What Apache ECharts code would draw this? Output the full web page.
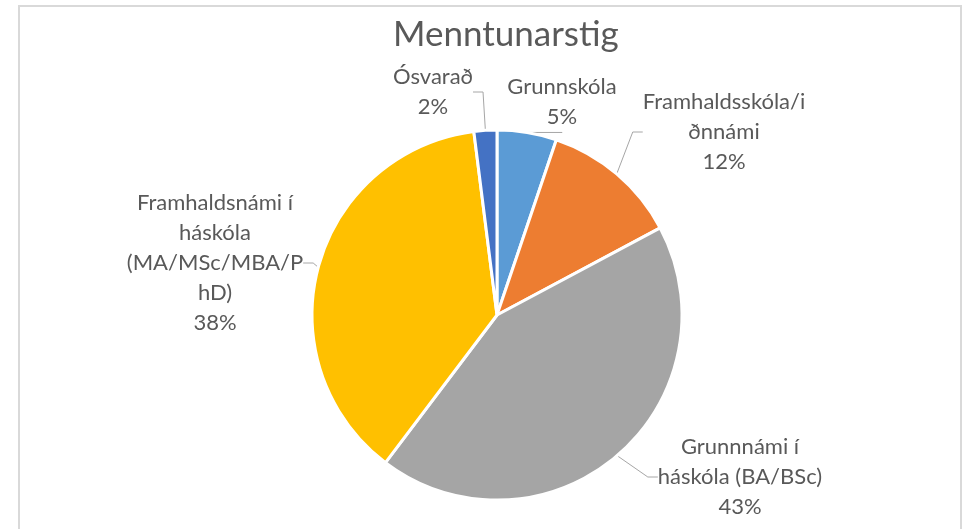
<!DOCTYPE html>
<html>
<head>
<meta charset="utf-8">
<script src="https://cdn.jsdelivr.net/npm/echarts@6/dist/echarts.min.js"></script>
<style>
  html, body { margin: 0; padding: 0; background: #fff; }
  #main { width: 968px; height: 529px; }
</style>
</head>
<body>
<div id="main"></div>
<script>
// flokkar og hlutföll (%)
var categories = ['Grunnskóla', 'Framhaldsskóla/iðnnámi', 'Grunnnámi í háskóla (BA/BSc)', 'Framhaldsnámi í háskóla (MA/MSc/MBA/PhD)', 'Ósvarað'];
var values = [5.2, 12.0, 43.1, 37.7, 2.0];
// texti eins og Excel brýtur hann
var labelTexts = ['Grunnskóla', 'Framhaldsskóla/i\nðnnámi', 'Grunnnámi í\nháskóla (BA/BSc)', 'Framhaldsnámi í\nháskóla\n(MA/MSc/MBA/P\nhD)', 'Ósvarað'];
var colors = ['#5b9bd5', '#ed7d31', '#a5a5a5', '#ffc000', '#4472c4'];

// staðsetning merkimiða (miðja)
var labelPos = [[562, 102], [724, 132], [740, 477], [215, 263], [433, 92]];

var pieData = [];
for (var i = 0; i < categories.length; i++) {
  pieData.push({ name: categories[i], value: values[i], itemStyle: { color: colors[i] } });
}

var myChart = echarts.init(document.getElementById('main'));
myChart.setOption({
  backgroundColor: '#fff',
  animation: false,
  title: {
    text: 'Menntunarstig',
    left: 388,
    top: 12,
    textStyle: { fontFamily: 'Lato', fontSize: 35, fontWeight: 'normal', color: '#595959' }
  },
  graphic: [{
    type: 'rect',
    shape: { x: 19, y: 6, width: 942, height: 540 },
    style: { fill: 'none', stroke: '#d9d9d9', lineWidth: 2 },
    silent: true
  }],
  series: [{
    type: 'pie',
    center: [497, 315],
    radius: 185,
    startAngle: 90,
    clockwise: true,
    data: pieData,
    itemStyle: { borderColor: '#fff', borderWidth: 3 },
    label: {
      show: true,
      position: 'outside',
      fontFamily: 'Lato',
      fontSize: 22,
      lineHeight: 30,
      color: '#595959',
      align: 'center',
      formatter: function (p) {
        return labelTexts[p.dataIndex] + '\n' + Math.round(p.percent) + '%';
      }
    },
    labelLine: {
      show: true,
      length: 10,
      length2: 10,
      smooth: false,
      lineStyle: { color: '#a6a6a6', width: 1 }
    },
    labelLayout: function (params) {
      var pos = labelPos[params.dataIndex];
      return { x: pos[0], y: pos[1], align: 'center', verticalAlign: 'middle' };
    }
  }]
});
</script>
</body>
</html>
